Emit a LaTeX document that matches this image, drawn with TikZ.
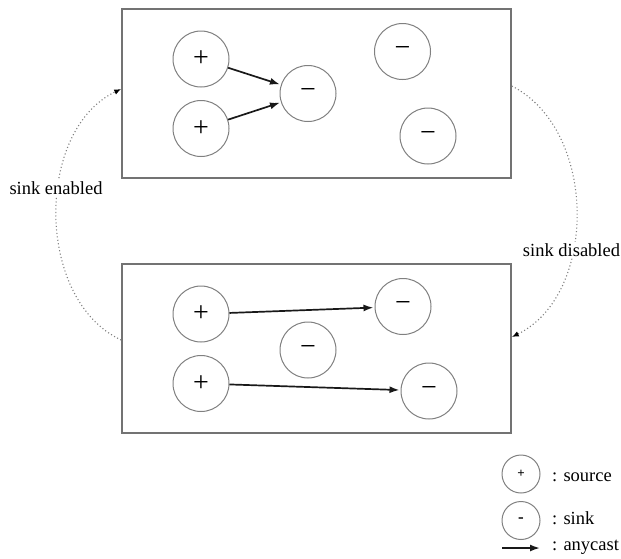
\documentclass[tikz,border=0pt]{standalone}
\usepackage{fontspec}
\setmainfont{Liberation Serif}
\usetikzlibrary{arrows.meta}
\tikzset{
  panel/.style={draw=black!55, line width=1.6pt, minimum width=389pt, minimum height=169pt, inner sep=0pt},
  agent/.style={circle, draw=black!50, line width=1pt, minimum size=56pt, inner sep=0pt, font=\fontsize{28}{28}\selectfont},
  legcirc/.style={circle, draw=black!50, line width=1pt, minimum size=38pt, inner sep=0pt},
  cast/.style={-{Latex[length=10pt,width=7pt]}, line width=1.7pt, black!90, shorten >=1pt},
  trans/.style={black!50, line width=1.1pt, dash pattern=on 1.1pt off 2.4pt, -{Latex[length=7pt,width=5.5pt,black]}},
  lbl/.style={font=\fontsize{18.5}{22}\selectfont, fill=white, inner sep=1.5pt},
  legtxt/.style={font=\fontsize{18.5}{22}\selectfont, anchor=west, inner sep=0pt}
}
\begin{document}
\begin{tikzpicture}[x=1pt,y=-1pt]
\useasboundingbox (0,0) rectangle (621,558);
% panels
\node[panel] (top) at (316.5,93.5) {};
\node[panel] (bot) at (316.5,348.5) {};
% top panel
\node[agent] (p1) at (201,59) {+};
\node[agent] (p2) at (201,128.5) {+};
\node[agent] (m1) at (308,93.5) {\char"2212};
\node[agent] (m2) at (402.5,51.5) {\char"2212};
\node[agent] (m3) at (428,136) {\char"2212};
\draw[cast] (p1) -- (m1);
\draw[cast] (p2) -- (m1);
% bottom panel
\node[agent] (p3) at (201,314) {+};
\node[agent] (p4) at (201,383.5) {+};
\node[agent] (m4) at (308,350) {\char"2212};
\node[agent] (m5) at (403,306.5) {\char"2212};
\node[agent] (m6) at (429,391) {\char"2212};
\draw[cast] (p3) -- (m5);
\draw[cast] (p4) -- (m6);
% transitions
\draw[trans] ([yshift=8.5pt]bot.west) .. controls (35,300) and (35,130) .. ([yshift=4.5pt]top.west);
\draw[trans] ([yshift=7.5pt]top.east) .. controls (598,130) and (598,295) .. ([yshift=11.5pt]bot.east);
\node[lbl] (en) at (56,188) {sink enabled};
\node[lbl] (dis) at (571.5,250) {sink disabled};
% legend
\node[legcirc, font=\fontsize{13}{13}\selectfont\bfseries] (ls) at (521,474) {+};
\node[legcirc, font=\fontsize{17}{17}\selectfont\bfseries] (lk) at (521,520.5) {-};
\coordinate (la) at (502,548);
\coordinate (lb) at (540,548);
\draw[cast, shorten >=0pt] (la) -- (lb);
\node[legtxt] (ts) at (552,477) {: source};
\node[legtxt] (tk) at (552,518) {: sink};
\node[legtxt] (ta) at (552,547) {: anycast};
\end{tikzpicture}
\end{document}
